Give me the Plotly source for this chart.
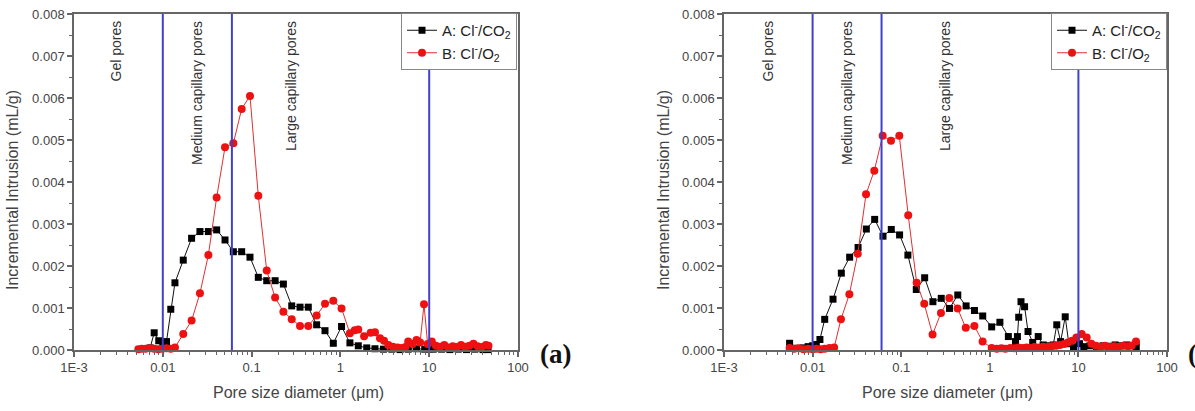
import plotly.graph_objects as go

# ---------------- data ----------------
# Panel (a)
a_left_x = [0.0072, 0.0080, 0.0090, 0.0100, 0.0110, 0.0123, 0.0137, 0.0170, 0.0211, 0.0262,
            0.0326, 0.0404, 0.0502, 0.0623, 0.0773, 0.0959, 0.119, 0.148, 0.184, 0.228,
            0.283, 0.351, 0.435, 0.540, 0.671, 0.832, 1.03, 1.28, 1.59, 1.98,
            2.45, 3.05, 3.8, 4.7, 5.8, 7.2, 8.9, 10.0, 11.1, 13.8,
            17.1, 21.2, 26.3, 32.6, 40.4, 46.0]
a_left_y = [0.00005, 0.00041, 0.00022, 0.00018, 0.00020, 0.00097, 0.00160, 0.00214, 0.00266, 0.00282,
            0.00282, 0.00286, 0.00262, 0.00234, 0.00234, 0.00221, 0.00173, 0.00165, 0.00165, 0.00157,
            0.00105, 0.00102, 0.00102, 0.00060, 0.00046, 0.00016, 0.00056, 0.00017, 0.00010, 0.00005,
            0.00003, 0.00002, 0.00002, 0.00001, 0.00002, 0.00003, 0.00002, 0.00003, 0.00002, 0.00002,
            0.00001, 0.00002, 0.00001, 0.00002, 0.00001, 0.00001]

b_left_x = [0.0053, 0.0058, 0.0064, 0.0072, 0.0080, 0.0089, 0.0099, 0.0110, 0.0123, 0.0137,
            0.0170, 0.0211, 0.0262, 0.0326, 0.0404, 0.0502, 0.0623, 0.0773, 0.0959, 0.119,
            0.148, 0.184, 0.228, 0.283, 0.351, 0.435, 0.540, 0.671, 0.832, 1.03,
            1.28, 1.45, 1.59, 1.85, 2.19, 2.45, 2.79, 3.1, 3.47, 3.9,
            4.4, 4.9, 5.4, 5.8, 6.5, 7.2, 7.9, 8.74, 9.6, 10.7,
            11.9, 13.3, 14.8, 16.5, 18.4, 20.5, 22.8, 25.4, 28.3, 31.5,
            35.1, 39.1, 43.5, 46.5]
b_left_y = [0.00002, 0.00003, 0.00003, 0.00004, 0.00003, 0.00002, 0.00003, 0.00004, 0.00003, 0.00006,
            0.00038, 0.00070, 0.00135, 0.00226, 0.00363, 0.00483, 0.00492, 0.00574, 0.00605, 0.00367,
            0.00189, 0.00125, 0.00091, 0.00073, 0.00057, 0.00057, 0.00082, 0.00110, 0.00117, 0.00099,
            0.00040, 0.00047, 0.00049, 0.00033, 0.00041, 0.00042, 0.00028, 0.00022, 0.00012, 0.00008,
            0.00006, 0.00005, 0.00007, 0.00020, 0.00014, 0.00024, 0.00018, 0.00109, 0.00014, 0.00020,
            0.00010, 0.00008, 0.00012, 0.00006, 0.00009, 0.00007, 0.00012, 0.00008, 0.00010, 0.00015,
            0.00009, 0.00007, 0.00012, 0.00010]

# Panel (b)
a_right_x = [0.0055, 0.0062, 0.0070, 0.0079, 0.0089, 0.0100, 0.0110, 0.0121, 0.0137, 0.0170,
             0.0211, 0.0262, 0.0326, 0.0404, 0.0502, 0.0623, 0.0773, 0.0959, 0.119, 0.148,
             0.184, 0.228, 0.283, 0.351, 0.435, 0.540, 0.671, 0.832, 1.05, 1.30,
             1.62, 1.95, 2.05, 2.12, 2.25, 2.47, 2.70, 3.05, 3.52, 4.0,
             4.6, 5.2, 5.7, 6.3, 7.1, 7.8, 8.8, 10.3, 11.5, 13.5,
             16.0, 19.0, 22.0, 26.0, 30.0, 35.0, 40.0, 45.0]
a_right_y = [0.00016, 0.00004, 0.00004, 0.00005, 0.00008, 0.00010, 0.00013, 0.00025, 0.00073, 0.00121,
             0.00183, 0.00221, 0.00244, 0.00288, 0.00311, 0.00271, 0.00287, 0.00274, 0.00226, 0.00144,
             0.00172, 0.00115, 0.00123, 0.00099, 0.00131, 0.00105, 0.00094, 0.00081, 0.00055, 0.00066,
             0.00032, 0.00020, 0.00032, 0.00078, 0.00115, 0.00103, 0.00044, 0.00018, 0.00032, 0.00012,
             0.00010, 0.00012, 0.00060, 0.00020, 0.00079, 0.00015, 0.00008, 0.00015, 0.00008, 0.00010,
             0.00008, 0.00010, 0.00009, 0.00012, 0.00010, 0.00012, 0.00010, 0.00008]

b_right_x = [0.0055, 0.0062, 0.0070, 0.0079, 0.0089, 0.0100, 0.0110, 0.0123, 0.0137, 0.0155,
             0.0175, 0.0209, 0.0260, 0.0323, 0.0401, 0.0497, 0.0618, 0.0767, 0.0952, 0.120,
             0.1495, 0.182, 0.226, 0.281, 0.349, 0.433, 0.535, 0.670, 0.830, 1.05,
             1.2, 1.35, 1.5, 1.7, 1.9, 2.1, 2.35, 2.6, 2.9, 3.2,
             3.6, 4.0, 4.5, 5.0, 5.6, 6.2, 6.9, 7.6, 8.5, 9.5,
             10.9, 12.4, 14.0, 15.8, 17.8, 20.0, 22.5, 25.3, 28.4, 32.0,
             36.0, 40.0, 44.7]
b_right_y = [0.00005, 0.00003, 0.00004, 0.00002, 0.00003, 0.00002, 0.00003, 0.00002, 0.00003, 0.00005,
             0.00006, 0.00073, 0.00133, 0.00229, 0.00371, 0.00427, 0.00510, 0.00498, 0.00510, 0.00321,
             0.00160, 0.00110, 0.00037, 0.00088, 0.00124, 0.00099, 0.00053, 0.00057, 0.00020, 0.00005,
             0.00003, 0.00004, 0.00003, 0.00005, 0.00004, 0.00006, 0.00005, 0.00006, 0.00005, 0.00007,
             0.00006, 0.00008, 0.00007, 0.00009, 0.00010, 0.00012, 0.00014, 0.00018, 0.00022, 0.00030,
             0.00038, 0.00030, 0.00015, 0.00010, 0.00008, 0.00010, 0.00007, 0.00009, 0.00008, 0.00010,
             0.00009, 0.00011, 0.00020]

pore_boundaries = [0.01, 0.06, 10]
region_labels = ["Gel pores", "Medium capillary pores", "Large capillary pores"]
series_names = ["A: Cl<sup>-</sup>/CO<sub>2</sub>", "B: Cl<sup>-</sup>/O<sub>2</sub>"]
x_tickvals = [0.001, 0.01, 0.1, 1, 10, 100]
x_ticktext = ["1E-3", "0.01", "0.1", "1", "10", "100"]
x_title = "Pore size diameter (\u03bcm)"
y_title = "Incremental Intrusion (mL/g)"
panel_tags = ["(a)", "(b)"]

# ---------------- layout helpers ----------------
W, H = 1195, 411
def px(x):
    return x / W
def py(y):
    return 1 - y / H

FONT = "Liberation Sans, Arial, sans-serif"
AX = "#666666"
TXT = "#444444"
BLUE = "#4040d0"

fig = go.Figure()

panels = [
    dict(ax="x", ay="y", leg="legend", ax_x=a_left_x, ax_y=a_left_y, bx=b_left_x, by=b_left_y),
    dict(ax="x2", ay="y2", leg="legend2", ax_x=a_right_x, ax_y=a_right_y, bx=b_right_x, by=b_right_y),
]

for p in panels:
    fig.add_trace(go.Scatter(
        x=p["ax_x"], y=p["ax_y"], xaxis=p["ax"], yaxis=p["ay"], legend=p["leg"],
        name=series_names[0], mode="lines+markers", cliponaxis=False,
        line=dict(color="#111111", width=1),
        marker=dict(symbol="square", size=7, color="#000000")))
    fig.add_trace(go.Scatter(
        x=p["bx"], y=p["by"], xaxis=p["ax"], yaxis=p["ay"], legend=p["leg"],
        name=series_names[1], mode="lines+markers", cliponaxis=False,
        line=dict(color="#e03030", width=1),
        marker=dict(symbol="circle", size=8, color="#ee1111")))
    for b in pore_boundaries:
        fig.add_trace(go.Scatter(
            x=[b, b], y=[0, 0.008], xaxis=p["ax"], yaxis=p["ay"], mode="lines",
            showlegend=False, hoverinfo="skip", cliponaxis=True,
            line=dict(color=BLUE, width=2)))

minor_vals = [m * 10 ** e for e in range(-3, 2) for m in range(2, 10)]
xaxis_common = dict(
    type="log", range=[-3, 2], tickmode="array", tickvals=x_tickvals, ticktext=x_ticktext,
    ticks="outside", ticklen=5, tickwidth=1.5, tickcolor=AX, automargin=False,
    minor=dict(ticks="outside", ticklen=3, tickwidth=1, tickcolor=AX, tickvals=minor_vals, showgrid=False),
    showline=True, linecolor=AX, linewidth=1.5, mirror=True, showgrid=False, zeroline=False,
    tickfont=dict(family=FONT, size=13, color=TXT))
yaxis_common = dict(
    range=[0, 0.008], dtick=0.001, tickformat=".3f", automargin=False,
    ticks="outside", ticklen=5, tickwidth=1.5, tickcolor=AX,
    minor=dict(ticks="outside", ticklen=3, tickwidth=1, tickcolor=AX, dtick=0.0005, showgrid=False),
    showline=True, linecolor=AX, linewidth=1.5, mirror=True, showgrid=False, zeroline=False,
    tickfont=dict(family=FONT, size=13, color=TXT))

y_dom = [py(350), py(14)]
legend_common = dict(
    bgcolor="white", bordercolor="#888888", borderwidth=1,
    font=dict(family=FONT, size=15, color="#222222"),
    xanchor="right", yanchor="top", y=py(13), tracegroupgap=4)

fig.update_layout(
    width=W, height=H, margin=dict(l=0, r=0, t=0, b=0, autoexpand=False),
    paper_bgcolor="white", plot_bgcolor="white",
    xaxis=dict(domain=[px(74), px(518)], anchor="y", **xaxis_common),
    yaxis=dict(domain=y_dom, anchor="x", **yaxis_common),
    xaxis2=dict(domain=[px(724), px(1167)], anchor="y2", **xaxis_common),
    yaxis2=dict(domain=y_dom, anchor="x2", **yaxis_common),
    legend=dict(x=px(517), **legend_common),
    legend2=dict(x=px(1167), **legend_common),
)

ann = []
# axis titles
for cx in (296, 945.5):
    ann.append(dict(text=x_title, x=px(cx + 2), y=py(392), xref="paper", yref="paper",
                    showarrow=False, xanchor="center", yanchor="middle",
                    font=dict(family=FONT, size=16, color=TXT)))
for cx in (12, 663):
    ann.append(dict(text=y_title, x=px(cx), y=py(190), xref="paper", yref="paper",
                    showarrow=False, textangle=-90, xanchor="center", yanchor="middle",
                    font=dict(family=FONT, size=16, color=TXT)))
# region labels
label_x = [(115, 197, 291), (767, 847, 945)]
for xs in label_x:
    for t, cx in zip(region_labels, xs):
        ann.append(dict(text=t, x=px(cx), y=py(19), xref="paper", yref="paper",
                        showarrow=False, textangle=-90, xanchor="center", yanchor="top",
                        font=dict(family=FONT, size=14, color="#333333")))
# panel tags
ann.append(dict(text="<b>" + panel_tags[0] + "</b>", x=px(538), y=py(354), xref="paper", yref="paper",
                showarrow=False, xanchor="left", yanchor="middle",
                font=dict(family="Liberation Serif, Times New Roman, serif", size=27, color="#111111")))
ann.append(dict(text="<b>" + panel_tags[1] + "</b>", x=px(1186), y=py(354), xref="paper", yref="paper",
                showarrow=False, xanchor="left", yanchor="middle",
                font=dict(family="Liberation Serif, Times New Roman, serif", size=27, color="#111111")))
fig.update_layout(annotations=ann)

fig.write_html("out.html")
